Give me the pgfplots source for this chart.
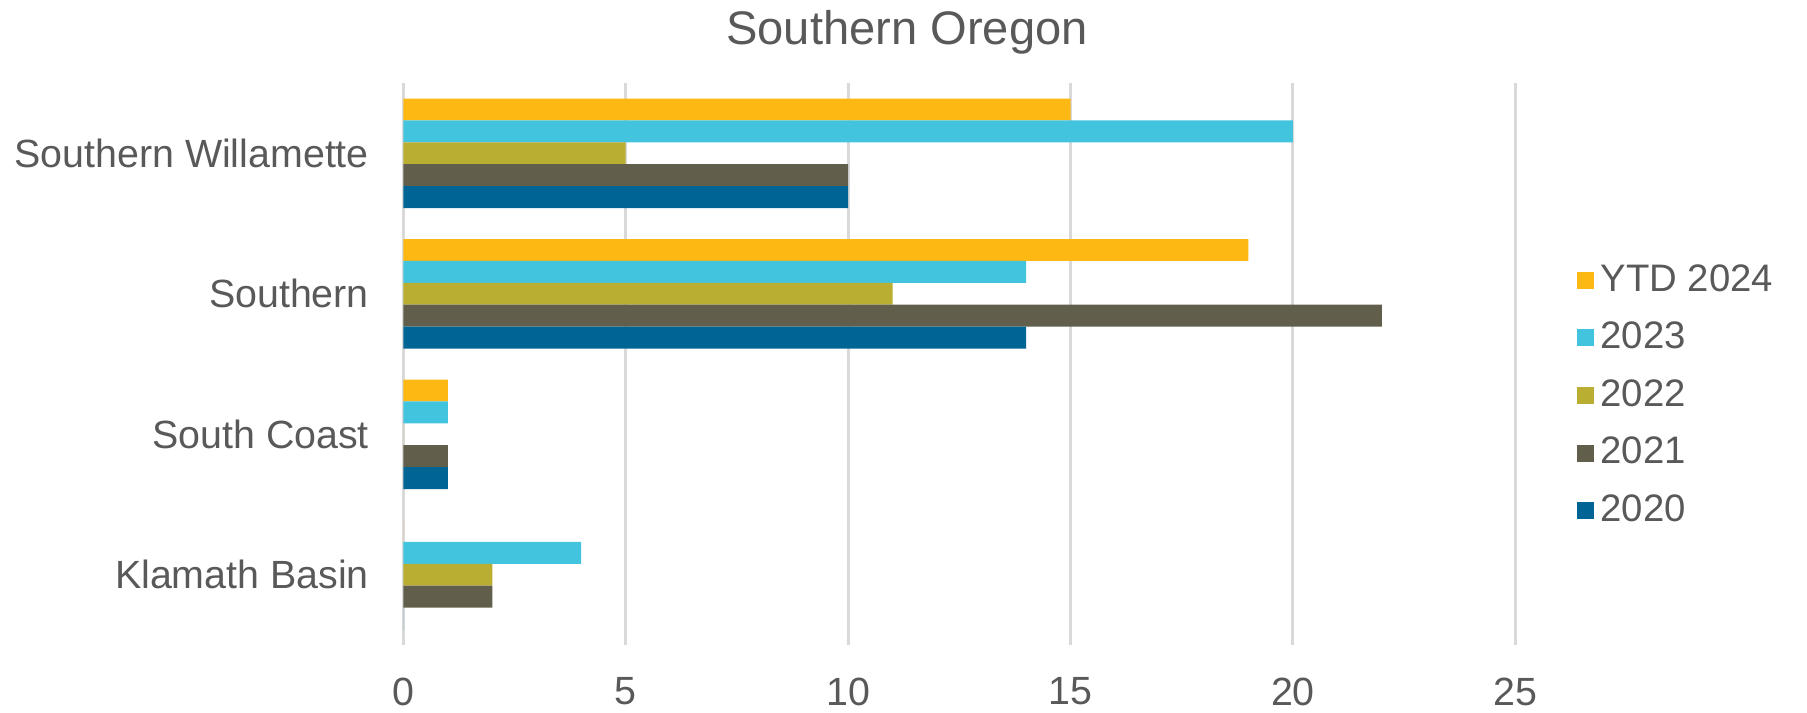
\documentclass[border=0pt]{standalone}
\usepackage{pgfplots}
\pgfplotsset{compat=1.18}
\usepackage{fontspec}
\setmainfont{Liberation Sans}

\definecolor{txt}{HTML}{595959}
\definecolor{gridc}{HTML}{D9D9D9}
\definecolor{cytd}{HTML}{FDB813}
\definecolor{c23}{HTML}{43C4DE}
\definecolor{c22}{HTML}{B9AE31}
\definecolor{c21}{HTML}{615F4B}
\definecolor{c20}{HTML}{006595}

\begin{document}
\begin{tikzpicture}
\path (0,0) rectangle (18.07cm,7.12cm);
\node[text=txt, inner sep=0pt, font=\fontsize{13.4}{16}\selectfont] at (9.07cm,6.80cm) {Southern Oregon};
\begin{axis}[
  at={(4.033cm,0.67cm)}, anchor=south west,
  scale only axis,
  width=11.12cm, height=5.62cm,
  xbar, bar width=0.219cm,
  xmin=0, xmax=25,
  ymin=-0.5, ymax=3.5,
  xtick={0,5,...,25},
  ytick={0,1,2,3},
  yticklabels={Klamath Basin, South Coast, Southern, Southern Willamette},
  xmajorgrids, grid style={gridc, line width=0.8pt},
  axis line style={draw=none},
  major tick length=0pt,
  tick label style={text=txt, font=\fontsize{11.2}{13}\selectfont},
  /pgf/number format/assume math mode=true,
  xticklabel style={inner sep=0pt, yshift=-0.32cm},
  yticklabel style={xshift=-0.22cm},
  legend style={at={(1.045,0.444)}, anchor=west, draw=none, fill=none,
    font=\fontsize{10.9}{13}\selectfont, text=txt, row sep=0.115cm,
    legend cell align=left},
  legend image code/.code={\fill[#1] (0cm,-0.085cm) rectangle (0.17cm,0.085cm);},
]
\addplot[draw=none, fill=cytd, bar shift=0.438cm]
  coordinates {(15,3) (19,2) (1,1) (0,0)};
\addlegendentry{YTD 2024}
\addplot[draw=none, fill=c23, bar shift=0.219cm]
  coordinates {(20,3) (14,2) (1,1) (4,0)};
\addlegendentry{2023}
\addplot[draw=none, fill=c22, bar shift=0cm]
  coordinates {(5,3) (11,2) (0,1) (2,0)};
\addlegendentry{2022}
\addplot[draw=none, fill=c21, bar shift=-0.219cm]
  coordinates {(10,3) (22,2) (1,1) (2,0)};
\addlegendentry{2021}
\addplot[draw=none, fill=c20, bar shift=-0.438cm]
  coordinates {(10,3) (14,2) (1,1) (0,0)};
\addlegendentry{2020}
\end{axis}
\end{tikzpicture}
\end{document}
